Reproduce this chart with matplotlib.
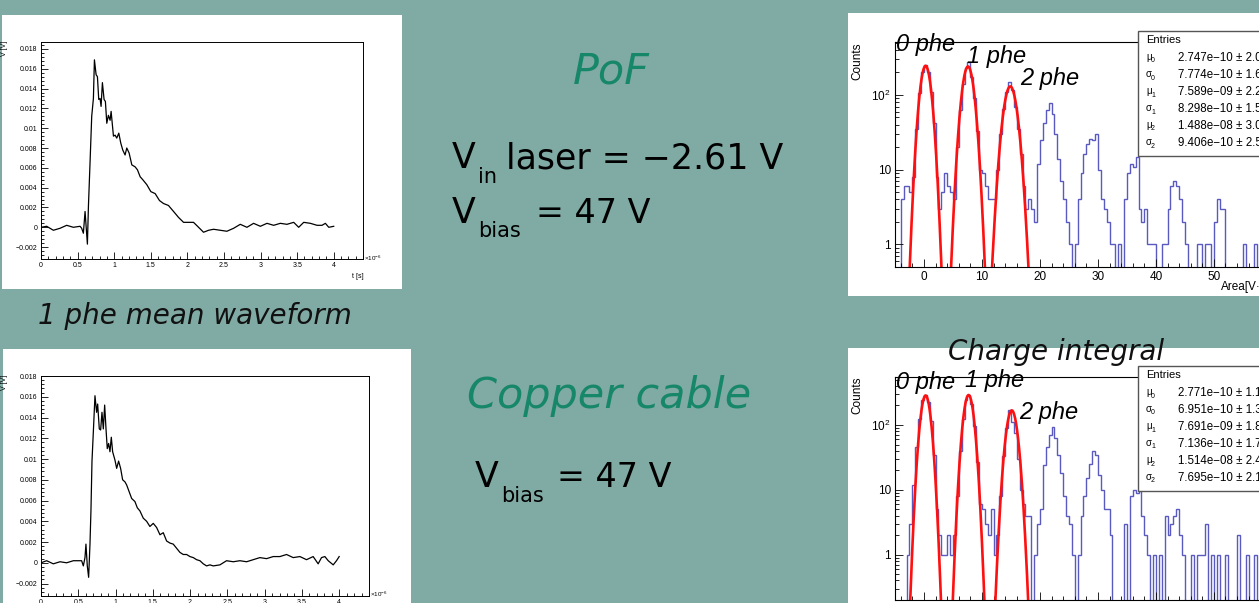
"""Slide: 1 phe mean waveform and charge integral, PoF vs copper cable."""
import numpy as np
import matplotlib

matplotlib.use("Agg")
import matplotlib.pyplot as plt  # noqa: E402
from matplotlib.patches import Rectangle  # noqa: E402
from matplotlib.ticker import MultipleLocator, LogLocator, NullFormatter  # noqa: E402

W, H = 1259, 603
BG = "#80aaa4"
GREEN = "#17876a"
HIST_BLUE = "#3c3cb4"

# ---- mean waveforms (t in 1e-6 s, V in volts) ----
WF_POF_T = [0, 0.078, 0.169, 0.26, 0.351, 0.442, 0.534, 0.556, 0.579, 0.602, 0.634, 0.648,
            0.670, 0.693, 0.716, 0.730, 0.753, 0.771, 0.789, 0.807, 0.821, 0.839, 0.862,
            0.880, 0.899, 0.921, 0.944, 0.958, 0.990, 1.013, 1.035, 1.063, 1.090, 1.117,
            1.149, 1.172, 1.204, 1.241, 1.286, 1.318, 1.355, 1.391, 1.446, 1.501, 1.560,
            1.619, 1.674, 1.742, 1.811, 1.879, 1.948, 2.016, 2.084, 2.153, 2.221, 2.290,
            2.358, 2.449, 2.540, 2.632, 2.723, 2.814, 2.905, 2.997, 3.088, 3.179, 3.270,
            3.361, 3.453, 3.521, 3.590, 3.681, 3.772, 3.840, 3.886, 3.932, 4.0]
WF_POF_V = [0.0, 0.0001, -0.0003, -0.0001, 0.0002, 0.0, 0.0001, -0.0001, -0.0006, 0.0016,
            -0.0017, 0.0021, 0.0065, 0.0112, 0.0130, 0.0169, 0.0154, 0.0152, 0.0129, 0.0130,
            0.0122, 0.0146, 0.0129, 0.0127, 0.0105, 0.0113, 0.0108, 0.0117, 0.0092, 0.0093,
            0.0090, 0.0095, 0.0085, 0.0078, 0.0073, 0.0080, 0.0075, 0.0063, 0.0061, 0.0058,
            0.0051, 0.0048, 0.0043, 0.0036, 0.0034, 0.0027, 0.0024, 0.0022, 0.0016, 0.0010,
            0.0005, 0.0005, 0.0005, 0.0, -0.0005, -0.0003, -0.0002, -0.0003, -0.0004, -0.0001,
            0.0003, 0.0, 0.0004, 0.0001, 0.0004, 0.0002, 0.0004, 0.0003, 0.0005, 0.0, 0.0005,
            0.0004, 0.0002, 0.0002, 0.0004, 0.0, 0.0001]
WF_CU_T = [0, 0.076, 0.165, 0.255, 0.344, 0.434, 0.545, 0.568, 0.590, 0.603, 0.621, 0.639,
           0.657, 0.670, 0.684, 0.702, 0.724, 0.746, 0.760, 0.782, 0.800, 0.818, 0.836,
           0.854, 0.872, 0.889, 0.907, 0.925, 0.943, 0.961, 0.992, 1.015, 1.041, 1.068,
           1.095, 1.126, 1.149, 1.180, 1.216, 1.260, 1.292, 1.327, 1.372, 1.417, 1.461,
           1.506, 1.551, 1.596, 1.640, 1.685, 1.730, 1.774, 1.819, 1.864, 1.908, 1.953,
           1.998, 2.043, 2.087, 2.132, 2.177, 2.221, 2.266, 2.311, 2.400, 2.489, 2.579,
           2.668, 2.758, 2.847, 2.936, 3.026, 3.115, 3.205, 3.294, 3.383, 3.473, 3.562,
           3.651, 3.718, 3.763, 3.808, 3.853, 3.920, 3.964, 4.0]
WF_CU_V = [0.0, 0.0002, -0.0001, 0.0001, 0.0, 0.0002, 0.0002, -0.0003, 0.0005, 0.0018,
           -0.0003, -0.0014, 0.0018, 0.0050, 0.0098, 0.0126, 0.0161, 0.0145, 0.0153, 0.0129,
           0.0128, 0.0145, 0.0129, 0.0152, 0.0129, 0.0110, 0.0115, 0.0107, 0.0121, 0.0107,
           0.0099, 0.0091, 0.0098, 0.0091, 0.0080, 0.0078, 0.0075, 0.0069, 0.0062, 0.0059,
           0.0053, 0.0050, 0.0043, 0.0040, 0.0035, 0.0038, 0.0034, 0.0027, 0.0029, 0.0021,
           0.0019, 0.0018, 0.0014, 0.0010, 0.0008, 0.0008, 0.0006, 0.0005, 0.0003, 0.0002,
           -0.0001, -0.0003, -0.0002, -0.0003, -0.0002, 0.0002, 0.0001, 0.0002, 0.0001,
           0.0003, 0.0005, 0.0004, 0.0006, 0.0006, 0.0008, 0.0005, 0.0006, 0.0003, 0.0006,
           -0.0001, 0.0005, 0.0006, 0.0002, -0.0002, 0.0002, 0.0006]
WF_XTICKS = [0, 0.5, 1, 1.5, 2, 2.5, 3, 3.5, 4]
WF_XTICKLABELS = ["0", "0.5", "1", "1.5", "2", "2.5", "3", "3.5", "4"]
WF_YTICKS = [-0.002, 0, 0.002, 0.004, 0.006, 0.008, 0.01, 0.012, 0.014, 0.016, 0.018]
WF_YTICKLABELS = ["\u22120.002", "0", "0.002", "0.004", "0.006", "0.008", "0.01",
                  "0.012", "0.014", "0.016", "0.018"]

# ---- charge histograms (Area in V*ns, 0.5 wide bins starting at -4.5) ----
BIN_LO, BIN_W = -4.5, 0.5
POF_COUNTS = [
    0, 4, 6, 6, 5, 8, 35, 105, 200, 250,
    205, 110, 42, 8, 3, 5, 9, 6, 5, 4,
    20, 62, 140, 230, 275, 175, 90, 33, 10, 9,
    6, 4, 4, 4, 10, 30, 65, 110, 150, 115,
    70, 35, 16, 6, 3, 4, 3, 2, 12, 25,
    42, 62, 78, 55, 30, 14, 7, 4, 2, 1,
    0, 1, 4, 9, 16, 22, 26, 25, 30, 10,
    4, 3, 2, 1, 1, 0, 1, 0, 4, 9,
    12, 11, 15, 3, 2, 3, 1, 1, 1, 0,
    0, 1, 1, 3, 6, 7, 6, 4, 2, 1,
    0, 0, 0, 1, 1, 0, 1, 1, 0, 2,
    4, 3, 3, 0, 0, 0, 0, 0, 0, 1,
    0, 0, 0, 1, 0, 0, 1, 0, 0, 0,
]
CU_COUNTS = [
    0, 0, 0, 1, 3, 12, 45, 125, 240, 290,
    230, 115, 35, 5, 2, 1, 1, 2, 1, 2,
    8, 40, 125, 245, 290, 210, 95, 27, 6, 5,
    3, 2, 5, 1, 2, 8, 33, 90, 170, 110,
    75, 30, 10, 6, 4, 4, 0, 1, 3, 5,
    24, 45, 70, 93, 62, 35, 18, 8, 4, 3,
    1, 0, 1, 4, 8, 15, 25, 40, 35, 17,
    10, 5, 5, 2, 0, 0, 0, 0, 3, 0,
    8, 10, 9, 10, 4, 2, 1, 0, 1, 0,
    1, 0, 4, 2, 3, 4, 5, 2, 1, 0,
    0, 1, 0, 1, 1, 1, 3, 0, 1, 0,
    1, 0, 0, 1, 0, 0, 0, 2, 0, 0,
    1, 0, 0, 1, 0, 0, 0, 1, 0, 0,
]
# gaussian fits (mu, sigma from the stat box, in V*ns)
POF_FIT_MU = [0.2747, 7.589, 14.88]
POF_FIT_SIGMA = [0.7774, 0.8298, 0.9406]
POF_FIT_AMP = [245, 240, 130]
CU_FIT_MU = [0.2771, 7.691, 15.14]
CU_FIT_SIGMA = [0.6951, 0.7136, 0.7695]
CU_FIT_AMP = [285, 290, 168]

STAT_SYMBOLS = ["\u03bc", "\u03c3", "\u03bc", "\u03c3", "\u03bc", "\u03c3"]
STAT_SUBS = ["0", "0", "1", "1", "2", "2"]
POF_STAT_VALUES = ["2.747e\u221210 \u00b1 2.0", "7.774e\u221210 \u00b1 1.6",
                   "7.589e\u221209 \u00b1 2.2", "8.298e\u221210 \u00b1 1.5",
                   "1.488e\u221208 \u00b1 3.0", "9.406e\u221210 \u00b1 2.5"]
CU_STAT_VALUES = ["2.771e\u221210 \u00b1 1.1", "6.951e\u221210 \u00b1 1.3",
                  "7.691e\u221209 \u00b1 1.8", "7.136e\u221210 \u00b1 1.7",
                  "1.514e\u221208 \u00b1 2.4", "7.695e\u221210 \u00b1 2.1"]
HIST_XTICKS = [0, 10, 20, 30, 40, 50, 60]
HIST_XTICKLABELS = ["0", "10", "20", "30", "40", "50", "60"]
HIST_YTICKS = [1, 10, 100]
HIST_YTICKLABELS = ["1", "10", "$10^{2}$"]
PEAK_LABELS = ["0 phe", "1 phe", "2 phe"]

ROOT_FONT = "Liberation Sans"
SLIDE_FONT = "DejaVu Sans"

fig = plt.figure(figsize=(W / 100, H / 100), dpi=100)
fig.patch.set_facecolor(BG)
plt.rcParams["mathtext.fontset"] = "custom"
plt.rcParams["mathtext.rm"] = ROOT_FONT


def rect(x0, y0, x1, y1):
    return [x0 / W, 1 - y1 / H, (x1 - x0) / W, (y1 - y0) / H]


def ftext(x, y, s, **kw):
    return fig.text(x / W, 1 - y / H, s, **kw)


def slide_text(x, y, s, size, **kw):
    kw.setdefault("va", "baseline")
    return ftext(x, y, s, fontsize=size, family=SLIDE_FONT, **kw)


def panel(x0, y0, x1, y1):
    fig.add_artist(Rectangle((x0 / W, 1 - y1 / H), (x1 - x0) / W, (y1 - y0) / H,
                             transform=fig.transFigure, facecolor="white",
                             edgecolor="none", zorder=-1))


def waveform(box, t, v, ylim, xlab_y, mult_y, tlabel=True):
    ax = fig.add_axes(rect(*box))
    ax.plot(t, v, color="black", lw=0.9)
    ax.set_xlim(0, 4.4)
    ax.set_ylim(*ylim)
    ax.set_xticks(WF_XTICKS, WF_XTICKLABELS, family=ROOT_FONT)
    ax.set_yticks(WF_YTICKS, WF_YTICKLABELS, family=ROOT_FONT)
    ax.xaxis.set_minor_locator(MultipleLocator(0.1))
    ax.yaxis.set_minor_locator(MultipleLocator(0.0004))
    ax.tick_params(which="both", direction="in", labelsize=5, pad=2.5, width=0.6)
    ax.tick_params(which="major", length=5)
    ax.tick_params(which="minor", length=2.5)
    for sp in ax.spines.values():
        sp.set_linewidth(0.7)
    x1 = box[2]
    ftext(x1 + 1, mult_y, "\u00d710$^{-6}$", fontsize=4.5, family=ROOT_FONT, va="center")
    if tlabel:
        ftext(x1 - 5, xlab_y, "t [s]", fontsize=5, family=ROOT_FONT, va="center", ha="center")
    ftext(5, box[1] - 1, "V [V]", fontsize=5, family=ROOT_FONT, rotation=90,
          va="top", ha="center")
    return ax


def charge(box, counts, mus, sigmas, amps, ylim, stat_values, box_top, labels):
    ax = fig.add_axes(rect(*box))
    edges = BIN_LO + BIN_W * np.arange(len(counts) + 1)
    c = np.asarray(counts, dtype=float)
    ax.stairs(np.where(c > 0, c, 1e-3), edges, color=HIST_BLUE, lw=1.0, alpha=0.85,
              baseline=None)
    for mu, s, a in zip(mus, sigmas, amps):
        x = np.linspace(mu - 4 * s, mu + 4 * s, 300)
        ax.plot(x, a * np.exp(-0.5 * ((x - mu) / s) ** 2), color="#ff1010", lw=1.9)
    ax.set_yscale("log")
    ax.set_xlim(-5, 68.3)
    ax.set_ylim(*ylim)
    ax.set_xticks(HIST_XTICKS, HIST_XTICKLABELS, family=ROOT_FONT)
    ax.set_yticks(HIST_YTICKS, HIST_YTICKLABELS, family=ROOT_FONT)
    ax.xaxis.set_minor_locator(MultipleLocator(2))
    ax.yaxis.set_minor_locator(LogLocator(base=10, subs=np.arange(2, 10)))
    ax.yaxis.set_minor_formatter(NullFormatter())
    ax.tick_params(which="both", direction="in", labelsize=8.5, pad=3, width=0.6)
    ax.tick_params(which="major", length=6)
    ax.tick_params(which="minor", length=3)
    for sp in ax.spines.values():
        sp.set_linewidth(0.8)
    ftext(857, box[1], "Counts", fontsize=8.5, family=ROOT_FONT, rotation=90,
          va="top", ha="center")
    # stat box
    fig.add_artist(Rectangle((1138 / W, 1 - (box_top + 125) / H), 140 / W, 125 / H,
                             transform=fig.transFigure, facecolor="white",
                             edgecolor="#555555", lw=1.0, zorder=5))
    ftext(1146, box_top + 9, "Entries", fontsize=8, family=ROOT_FONT, va="center", zorder=6)
    for i, (sym, sub, val) in enumerate(zip(STAT_SYMBOLS, STAT_SUBS, stat_values)):
        y = box_top + 27 + 17 * i
        ftext(1146, y - 1, sym, fontsize=7, family=ROOT_FONT, va="center", zorder=6)
        ftext(1151, y + 3, sub, fontsize=5, family=ROOT_FONT, va="center", zorder=6)
        ftext(1178, y, val, fontsize=8.3, family=ROOT_FONT, va="center", zorder=6)
    for (lx, ly), lab in zip(labels, PEAK_LABELS):
        ftext(lx, ly, lab, fontsize=17, family=ROOT_FONT, style="italic",
              va="center", ha="left", zorder=6)
    return ax


# white panels
panel(2, 15, 402, 289)
panel(3, 349, 411, 603)
panel(848, 13, 1259, 296)
panel(848, 348, 1259, 603)

waveform((41, 42, 363, 259), WF_POF_T, WF_POF_V, (-0.0032, 0.0187), 277, 258)
waveform((41, 376, 369, 596), WF_CU_T, WF_CU_V, (-0.0032, 0.018), 612, 594, tlabel=False)

charge((895, 42, 1320, 267), POF_COUNTS, POF_FIT_MU, POF_FIT_SIGMA, POF_FIT_AMP,
       (0.5, 510), POF_STAT_VALUES, 31, [(896, 45), (967, 57), (1020, 78)])
charge((895, 377, 1320, 600), CU_COUNTS, CU_FIT_MU, CU_FIT_SIGMA, CU_FIT_AMP,
       (0.2, 550), CU_STAT_VALUES, 366, [(896, 382), (965, 381), (1019, 412)])
ftext(1221, 287, "Area[V\u00b7ns]", fontsize=8.5, family=ROOT_FONT, va="center")

# slide captions and middle text
slide_text(195, 316, "1 phe mean waveform", 20, style="italic", ha="center",
           va="center", color="#111111")
slide_text(1056, 352, "Charge integral", 20, style="italic", ha="center",
           va="center", color="#111111")

slide_text(611, 72, "PoF", 31, style="italic", color=GREEN, ha="center", va="center")
slide_text(452, 168, "V", 25)
slide_text(478, 183, "in", 15)
slide_text(506, 168, "laser = \u22122.61 V", 25)
slide_text(452, 223, "V", 25)
slide_text(478, 237, "bias", 15)
slide_text(536, 223, "= 47 V", 24)

slide_text(609, 396, "Copper cable", 31, style="italic", color=GREEN, ha="center",
           va="center")
slide_text(475, 487, "V", 25)
slide_text(501, 502, "bias", 15)
slide_text(557, 487, "= 47 V", 24)

fig.savefig("out.png", dpi=100, facecolor=BG)
